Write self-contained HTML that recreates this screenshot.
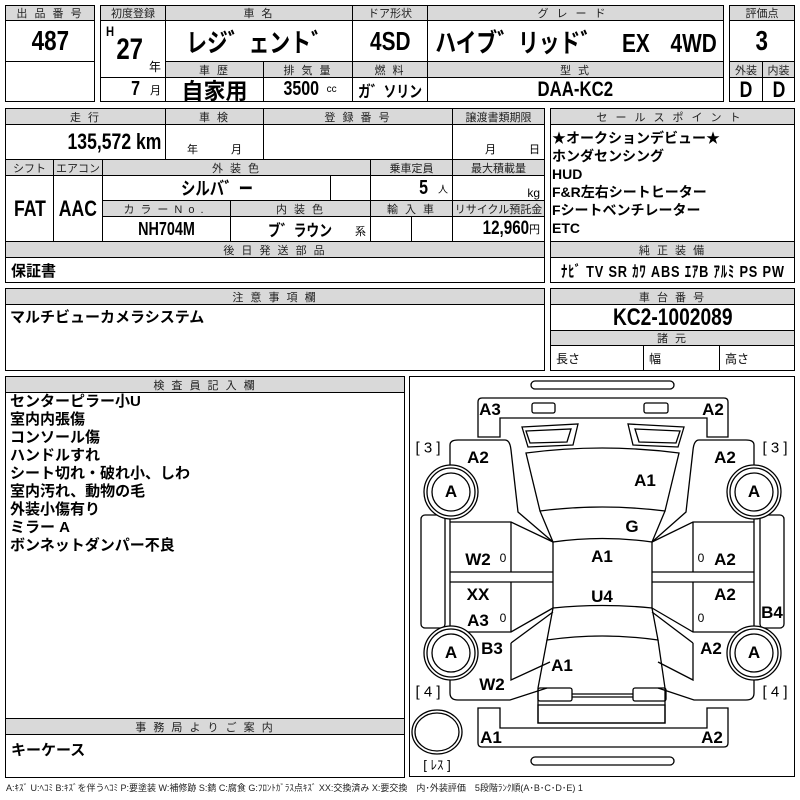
<!DOCTYPE html>
<html><head><meta charset="utf-8"><style>
body{margin:0;width:800px;height:800px;background:#fff;position:relative;overflow:hidden;font-family:"Liberation Sans","Noto Sans CJK JP",sans-serif;color:#000}
.c{position:absolute;border:1px solid #000;box-sizing:border-box;display:flex;align-items:center;justify-content:center;white-space:nowrap;overflow:hidden}
.h{background:#d9d9d9;font-size:11px;letter-spacing:2px;color:#222}
.b{font-weight:bold}
.n{display:inline-block;transform:scaleX(.8);font-weight:bold}
.l{justify-content:flex-start;padding-left:5px}
.r{justify-content:flex-end;padding-right:4px}
.list{position:absolute;font-weight:bold;font-size:15px;line-height:18px;white-space:nowrap}
.t{position:absolute;font-weight:bold;font-size:17px;transform:translate(-50%,-50%);white-space:nowrap}
</style></head><body>
<!-- section 1 -->
<div class="c h" style="left:5px;top:5px;width:90px;height:16px">出 品 番 号</div>
<div class="c" style="left:5px;top:20px;width:90px;height:42px"><span class="n" style="font-size:28px">487</span></div>
<div class="c" style="left:5px;top:61px;width:90px;height:41px"></div>

<div class="c h" style="left:100px;top:5px;width:66px;height:16px;letter-spacing:0">初度登録</div>
<div class="c h" style="left:165px;top:5px;width:188px;height:16px">車 名</div>
<div class="c h" style="left:352px;top:5px;width:76px;height:16px;letter-spacing:0">ドア形状</div>
<div class="c h" style="left:427px;top:5px;width:297px;height:16px;letter-spacing:8px">グレード</div>
<div class="c" style="left:100px;top:20px;width:66px;height:58px"><span class="n" style="position:absolute;left:4px;top:2px;font-size:14px">H</span><span class="n" style="position:absolute;left:12px;top:12px;font-size:30px">27</span><span style="position:absolute;right:4px;bottom:2px;font-size:12px">年</span></div>
<div class="c" style="left:165px;top:20px;width:188px;height:42px"><span class="n" style="font-size:26px">レジ゛ェント゛</span></div>
<div class="c" style="left:352px;top:20px;width:76px;height:42px"><span class="n" style="font-size:26px">4SD</span></div>
<div class="c" style="left:427px;top:20px;width:297px;height:42px"><span class="n" style="font-size:26px">ハイブ゛リッド゛　EX　4WD</span></div>
<div class="c h" style="left:165px;top:61px;width:99px;height:17px">車 歴</div>
<div class="c h" style="left:263px;top:61px;width:90px;height:17px">排 気 量</div>
<div class="c h" style="left:352px;top:61px;width:76px;height:17px">燃 料</div>
<div class="c h" style="left:427px;top:61px;width:297px;height:17px">型 式</div>
<div class="c r" style="left:100px;top:77px;width:66px;height:25px"><span class="n" style="font-size:20px">7</span>&nbsp;&nbsp;<span style="font-size:11px">月</span></div>
<div class="c" style="left:165px;top:77px;width:99px;height:25px"><span class="b" style="font-size:22px">自家用</span></div>
<div class="c" style="left:263px;top:77px;width:90px;height:25px"><span class="n" style="font-size:20px">3500</span><span style="font-size:10px">&nbsp;cc</span></div>
<div class="c" style="left:352px;top:77px;width:76px;height:25px"><span class="n" style="font-size:16px">ガ゛ソリン</span></div>
<div class="c" style="left:427px;top:77px;width:297px;height:25px"><span class="n" style="font-size:21px">DAA-KC2</span></div>

<div class="c h" style="left:729px;top:5px;width:66px;height:16px;letter-spacing:0">評価点</div>
<div class="c" style="left:729px;top:20px;width:66px;height:42px"><span class="n" style="font-size:28px">3</span></div>
<div class="c h" style="left:729px;top:61px;width:34px;height:17px;letter-spacing:0">外装</div>
<div class="c h" style="left:762px;top:61px;width:33px;height:17px;letter-spacing:0">内装</div>
<div class="c" style="left:729px;top:77px;width:34px;height:25px"><span class="n" style="font-size:22px">D</span></div>
<div class="c" style="left:762px;top:77px;width:33px;height:25px"><span class="n" style="font-size:22px">D</span></div>

<!-- section 2 -->
<div class="c h" style="left:5px;top:108px;width:161px;height:17px">走 行</div>
<div class="c h" style="left:165px;top:108px;width:99px;height:17px">車 検</div>
<div class="c h" style="left:263px;top:108px;width:190px;height:17px">登 録 番 号</div>
<div class="c h" style="left:452px;top:108px;width:93px;height:17px;letter-spacing:0">譲渡書類期限</div>
<div class="c r" style="left:5px;top:124px;width:161px;height:36px"><span class="n" style="font-size:22px;transform-origin:right">135,572 km</span></div>
<div class="c" style="left:165px;top:124px;width:99px;height:36px;align-items:flex-end;font-size:11px;padding-bottom:2px">年　　　月</div>
<div class="c" style="left:263px;top:124px;width:190px;height:36px"></div>
<div class="c r" style="left:452px;top:124px;width:93px;height:36px;align-items:flex-end;font-size:11px;padding-bottom:2px">月　　　日</div>
<div class="c h" style="left:5px;top:159px;width:49px;height:17px;letter-spacing:0">シフト</div>
<div class="c h" style="left:53px;top:159px;width:50px;height:17px;letter-spacing:0">エアコン</div>
<div class="c h" style="left:102px;top:159px;width:269px;height:17px">外 装 色</div>
<div class="c h" style="left:370px;top:159px;width:83px;height:17px;letter-spacing:0">乗車定員</div>
<div class="c h" style="left:452px;top:159px;width:93px;height:17px;letter-spacing:0">最大積載量</div>
<div class="c" style="left:5px;top:175px;width:49px;height:67px"><span class="n" style="font-size:22px">FAT</span></div>
<div class="c" style="left:53px;top:175px;width:50px;height:67px"><span class="n" style="font-size:22px">AAC</span></div>
<div class="c" style="left:102px;top:175px;width:229px;height:26px"><span class="n" style="font-size:18px">シルバ゛ー</span></div>
<div class="c" style="left:330px;top:175px;width:41px;height:26px"></div>
<div class="c r" style="left:370px;top:175px;width:83px;height:26px"><span class="n" style="font-size:20px">5</span>&nbsp;&nbsp;<span style="font-size:10px">人</span></div>
<div class="c r" style="left:452px;top:175px;width:93px;height:26px;align-items:flex-end;font-size:12px">kg</div>
<div class="c h" style="left:102px;top:200px;width:129px;height:17px;letter-spacing:6px">カラーNo.</div>
<div class="c h" style="left:230px;top:200px;width:141px;height:17px">内 装 色</div>
<div class="c h" style="left:370px;top:200px;width:83px;height:17px">輸 入 車</div>
<div class="c h" style="left:452px;top:200px;width:93px;height:17px;letter-spacing:0">リサイクル預託金</div>
<div class="c" style="left:102px;top:216px;width:129px;height:26px"><span class="n" style="font-size:18px">NH704M</span></div>
<div class="c" style="left:230px;top:216px;width:141px;height:26px"><span class="n" style="font-size:16px">ブ゛ラウン</span><span style="position:absolute;right:4px;bottom:2px;font-size:11px">系</span></div>
<div class="c" style="left:370px;top:216px;width:42px;height:26px"></div>
<div class="c" style="left:411px;top:216px;width:42px;height:26px"></div>
<div class="c r" style="left:452px;top:216px;width:93px;height:26px"><span class="n" style="font-size:19px;transform-origin:right">12,960</span><span style="font-size:11px">円</span></div>
<div class="c h" style="left:5px;top:241px;width:540px;height:17px">後 日 発 送 部 品</div>
<div class="c l" style="left:5px;top:257px;width:540px;height:26px"><span class="b" style="font-size:15px">保証書</span></div>

<div class="c h" style="left:550px;top:108px;width:245px;height:17px;letter-spacing:8px">セールスポイント</div>
<div class="c" style="left:550px;top:124px;width:245px;height:118px"></div>
<div class="list" style="left:552px;top:129px;font-size:14px">★オークションデビュー★<br>ホンダセンシング<br>HUD<br>F&amp;R左右シートヒーター<br>Fシートベンチレーター<br>ETC</div>
<div class="c h" style="left:550px;top:241px;width:245px;height:17px">純 正 装 備</div>
<div class="c" style="left:550px;top:257px;width:245px;height:26px"><span class="n" style="font-size:16px;letter-spacing:1px">ﾅﾋﾞ TV SR ｶﾜ ABS ｴｱB ｱﾙﾐ PS PW</span></div>

<!-- section 3 -->
<div class="c h" style="left:5px;top:288px;width:540px;height:17px">注 意 事 項 欄</div>
<div class="c" style="left:5px;top:304px;width:540px;height:67px"></div>
<div class="list" style="left:10px;top:309px">マルチビューカメラシステム</div>
<div class="c h" style="left:550px;top:288px;width:245px;height:17px">車 台 番 号</div>
<div class="c" style="left:550px;top:304px;width:245px;height:27px"><span class="n" style="font-size:24px">KC2-1002089</span></div>
<div class="c h" style="left:550px;top:330px;width:245px;height:16px">諸 元</div>
<div class="c l" style="left:550px;top:345px;width:94px;height:26px;font-size:12px">長さ</div>
<div class="c l" style="left:643px;top:345px;width:77px;height:26px;font-size:12px">幅</div>
<div class="c l" style="left:719px;top:345px;width:76px;height:26px;font-size:12px">高さ</div>

<!-- section 4 -->
<div class="c h" style="left:5px;top:376px;width:400px;height:17px">検 査 員 記 入 欄</div>
<div class="c" style="left:5px;top:392px;width:400px;height:327px"></div>
<div class="list" style="left:10px;top:393px">センターピラー小U<br>室内内張傷<br>コンソール傷<br>ハンドルすれ<br>シート切れ・破れ小、しわ<br>室内汚れ、動物の毛<br>外装小傷有り<br>ミラー A<br>ボンネットダンパー不良</div>
<div class="c h" style="left:5px;top:718px;width:400px;height:17px">事 務 局 よ り ご 案 内</div>
<div class="c l" style="left:5px;top:734px;width:400px;height:44px;align-items:flex-start;padding-top:4px"><span class="b" style="font-size:15px">キーケース</span></div>

<div class="c" style="left:409px;top:376px;width:386px;height:401px"></div>
<svg style="position:absolute;left:0;top:0" width="800" height="800" fill="none" stroke="#000" stroke-width="1.3">
<rect x="531" y="381" width="143" height="8" rx="4"/>
<rect x="531" y="757" width="143" height="8" rx="4"/>
<path d="M478,437 L478,402 Q478,398 482,398 L724,398 Q728,398 728,402 L728,437 L707,437 L707,418 L500,418 L500,437 Z"/>
<rect x="532" y="403" width="23" height="10" rx="2"/><rect x="644" y="403" width="24" height="10" rx="2"/>
<path d="M478,708 L478,743 Q478,747 482,747 L724,747 Q728,747 728,743 L728,708 L707,708 L707,728 L500,728 L500,708 Z"/>
<path d="M522,427 L578,424 L573,445 L528,447 Z M526,431 L571,429 L567,442 L530,443 Z"/>
<path d="M684,427 L628,424 L633,445 L678,447 Z M680,431 L635,429 L639,442 L676,443 Z"/>
<path d="M526,453 Q602,443 679,453 L665,511 Q602,503 540,511 Z"/>
<path d="M540,511 L553,542 Q602,535 652,542 L665,511"/>
<path d="M553,542 L553,608 Q602,603 652,608 L652,542"/>
<path d="M553,608 L547,640 Q602,632 658,640 L652,608"/>
<path d="M547,640 L538,688 L538,723 L665,723 L665,688 L658,640"/>
<rect x="538" y="688" width="34" height="13" rx="2"/><rect x="633" y="688" width="33" height="13" rx="2"/>
<path d="M572,694 L633,694 M572,697 L633,697"/><rect x="538" y="705" width="127" height="18"/>
<!-- left side -->
<path d="M450,465 L450,445 Q450,440 458,440 L505,440 Q510,440 511,450 L518,512 L553,542"/>
<path d="M450,522 L511,522 L553,542 M450,572 L553,572 M450,582 L553,582 M450,632 L511,632 L553,608"/>
<path d="M511,522 L511,572 M511,582 L511,632"/>
<path d="M450,515 L450,632"/>
<path d="M511,643 L511,680 L550,662"/><path d="M511,643 L553,612"/>
<path d="M450,680 L450,693 Q450,700 458,700 L510,700 L547,688"/>
<rect x="421" y="515" width="24" height="113" rx="4"/>
<!-- right side -->
<path d="M754,465 L754,445 Q754,440 746,440 L699,440 Q694,440 693,450 L686,512 L652,542"/>
<path d="M754,522 L693,522 L652,542 M754,572 L652,572 M754,582 L652,582 M754,632 L693,632 L652,608"/>
<path d="M693,522 L693,572 M693,582 L693,632"/>
<path d="M754,515 L754,632"/>
<path d="M693,643 L693,680 L658,662"/><path d="M693,643 L652,612"/>
<path d="M754,680 L754,693 Q754,700 746,700 L694,700 L658,688"/>
<rect x="760" y="515" width="24" height="113" rx="4"/>
<!-- wheels -->
<g fill="#fff"><circle cx="451" cy="492" r="27"/><circle cx="451" cy="653" r="27"/><circle cx="754" cy="492" r="27"/><circle cx="754" cy="653" r="27"/></g>
<circle cx="451" cy="492" r="24"/><circle cx="451" cy="492" r="19"/>
<circle cx="451" cy="653" r="24"/><circle cx="451" cy="653" r="19"/>
<circle cx="754" cy="492" r="24"/><circle cx="754" cy="492" r="19"/>
<circle cx="754" cy="653" r="24"/><circle cx="754" cy="653" r="19"/>
<ellipse cx="437" cy="732" rx="25" ry="22"/><ellipse cx="437" cy="732" rx="22" ry="19"/>
</svg>
<div class="t" style="left:490px;top:410px">A3</div><div class="t" style="left:713px;top:410px">A2</div>
<div class="t" style="left:428px;top:448px;font-weight:normal;font-size:15px">[ 3 ]</div><div class="t" style="left:775px;top:448px;font-weight:normal;font-size:15px">[ 3 ]</div>
<div class="t" style="left:478px;top:458px">A2</div><div class="t" style="left:725px;top:458px">A2</div>
<div class="t" style="left:451px;top:492px">A</div><div class="t" style="left:754px;top:492px">A</div>
<div class="t" style="left:645px;top:481px">A1</div><div class="t" style="left:632px;top:527px">G</div>
<div class="t" style="left:478px;top:560px">W2</div><div class="t" style="left:602px;top:557px">A1</div><div class="t" style="left:725px;top:560px">A2</div>
<div class="t" style="left:503px;top:558px;font-weight:normal;font-size:12px">0</div><div class="t" style="left:701px;top:558px;font-weight:normal;font-size:12px">0</div>
<div class="t" style="left:478px;top:595px">XX</div><div class="t" style="left:602px;top:597px">U4</div><div class="t" style="left:725px;top:595px">A2</div>
<div class="t" style="left:478px;top:621px">A3</div><div class="t" style="left:772px;top:613px">B4</div>
<div class="t" style="left:503px;top:618px;font-weight:normal;font-size:12px">0</div><div class="t" style="left:701px;top:618px;font-weight:normal;font-size:12px">0</div>
<div class="t" style="left:492px;top:649px">B3</div><div class="t" style="left:711px;top:649px">A2</div>
<div class="t" style="left:451px;top:653px">A</div><div class="t" style="left:754px;top:653px">A</div>
<div class="t" style="left:562px;top:666px">A1</div><div class="t" style="left:492px;top:685px">W2</div>
<div class="t" style="left:428px;top:692px;font-weight:normal;font-size:15px">[ 4 ]</div><div class="t" style="left:775px;top:692px;font-weight:normal;font-size:15px">[ 4 ]</div>
<div class="t" style="left:491px;top:738px">A1</div><div class="t" style="left:712px;top:738px">A2</div>
<div class="t" style="left:437px;top:764px;font-weight:normal;font-size:13px">[ ﾚｽ ]</div>
<div style="position:absolute;left:6px;top:781px;font-size:9px;white-space:nowrap;color:#222">A:ｷｽﾞ U:ﾍｺﾐ B:ｷｽﾞを伴うﾍｺﾐ P:要塗装 W:補修跡 S:錆 C:腐食 G:ﾌﾛﾝﾄｶﾞﾗｽ点ｷｽﾞ XX:交換済み X:要交換　内･外装評価　5段階ﾗﾝｸ順(A･B･C･D･E) 1</div>
</body></html>
